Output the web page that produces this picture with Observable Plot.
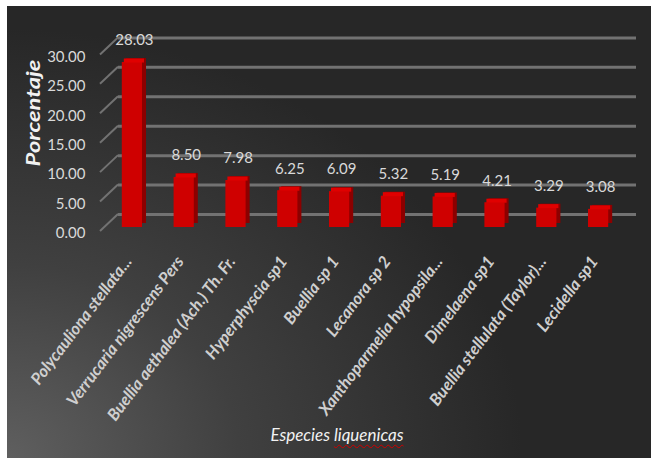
<!DOCTYPE html>
<html>
<head>
<meta charset="utf-8">
<script src="https://cdn.jsdelivr.net/npm/d3@7"></script>
<script src="https://cdn.jsdelivr.net/npm/@observablehq/plot@0.6"></script>
<style>
  html, body { margin: 0; padding: 0; background: #fff; }
  #wrap { position: relative; width: 654px; height: 461px; background: #fff; overflow: hidden; font-family: Lato, "Open Sans", sans-serif; }
  #bg { position: absolute; left: 7px; top: 6px; width: 644px; height: 452px;
        background: radial-gradient(ellipse 80% 95% at 0% 100%, #5f5f5f 0%, #404040 45%, #272727 100%); }
  #chart { position: absolute; left: 0; top: 0; }
  #ylab { position: absolute; left: 32px; top: 113px; transform: translate(-50%, -50%) rotate(-90deg) scaleX(1.25);
          color: #f2f2f2; font: italic bold 19px Lato, sans-serif; white-space: nowrap; }
  #xlab { position: absolute; left: 337px; top: 434px; transform: translate(-50%, -50%);
          color: #f2f2f2; font: italic 17px Lato, sans-serif; white-space: nowrap; }
  #xlab span { text-decoration: underline wavy #d00000; text-decoration-thickness: 1px; text-underline-offset: 3px; }
</style>
</head>
<body>
<div id="wrap">
  <div id="bg"></div>
  <div id="chart"></div>
  <div id="ylab">Porcentaje</div>
  <div id="xlab">Especies <span>liquenicas</span></div>
</div>
<script>
const species = [
  "Polycauliona stellata...",
  "Verrucaria nigrescens Pers",
  "Buellia aethalea (Ach.) Th. Fr.",
  "Hyperphyscia sp1",
  "Buellia sp 1",
  "Lecanora sp 2",
  "Xanthoparmelia hypopsila...",
  "Dimelaena sp1",
  "Buellia stellulata (Taylor)...",
  "Lecidella sp1"
];
const percentages = [28.03, 8.50, 7.98, 6.25, 6.09, 5.32, 5.19, 4.21, 3.29, 3.08];
const yTicks = [0, 5, 10, 15, 20, 25, 30];

const data = species.map((s, i) => ({species: s, value: percentages[i]}));

const chart = Plot.plot({
  width: 654,
  height: 461,
  marginLeft: 100,
  marginRight: 18,
  marginTop: 50,
  marginBottom: 234,
  style: {background: "transparent", color: "#d9d9d9", fontFamily: "Lato, sans-serif", fontSize: "14px"},
  x: {domain: species, range: [106, 624], paddingInner: 0.61, paddingOuter: 0.305, round: false, label: null},
  y: {domain: [0, 30], range: [227, 50.4], label: null},
  marks: [
    Plot.ruleY(yTicks, {y: d => d, dy: -13, insetLeft: 18, stroke: "#727272", strokeWidth: 3}),
    Plot.axisY({ticks: yTicks, tickFormat: d => d.toFixed(2), tickSize: 0, tickPadding: 15, dy: 6, fontSize: 15, fill: "#d9d9d9", label: null}),
    Plot.axisX({tickSize: 0, tickPadding: 31, tickRotate: -53, dx: -4, fontStyle: "italic", fontWeight: "bold", fontSize: 16.5, fill: "#cfcfcf", label: null}),
    Plot.rectY(data, {x: "species", y: "value", dx: 4, dy: -4, fill: "#8c0000"}),
    Plot.rectY(data, {x: "species", y: "value", fill: "#cf0000"}),
    Plot.tickY(data, {x: "species", y: "value", dx: 2, dy: -2, stroke: "#e00000", strokeWidth: 4}),
    Plot.text(data, {x: "species", y: "value", text: d => d.value.toFixed(2), dx: 2, dy: -22, fill: "#d9d9d9", fontSize: 15})
  ]
});

document.getElementById("chart").appendChild(chart);

// depth lines joining the front axis to the back-wall gridlines
const ys = chart.scale("y");
const g = d3.select(chart).insert("g", ":first-child");
g.selectAll("line").data(yTicks).join("line")
  .attr("x1", 100).attr("x2", 118)
  .attr("y1", d => ys.apply(d) + 4)
  .attr("y2", d => ys.apply(d) - 13)
  .attr("stroke", "#727272").attr("stroke-width", 2);
</script>
</body>
</html>
